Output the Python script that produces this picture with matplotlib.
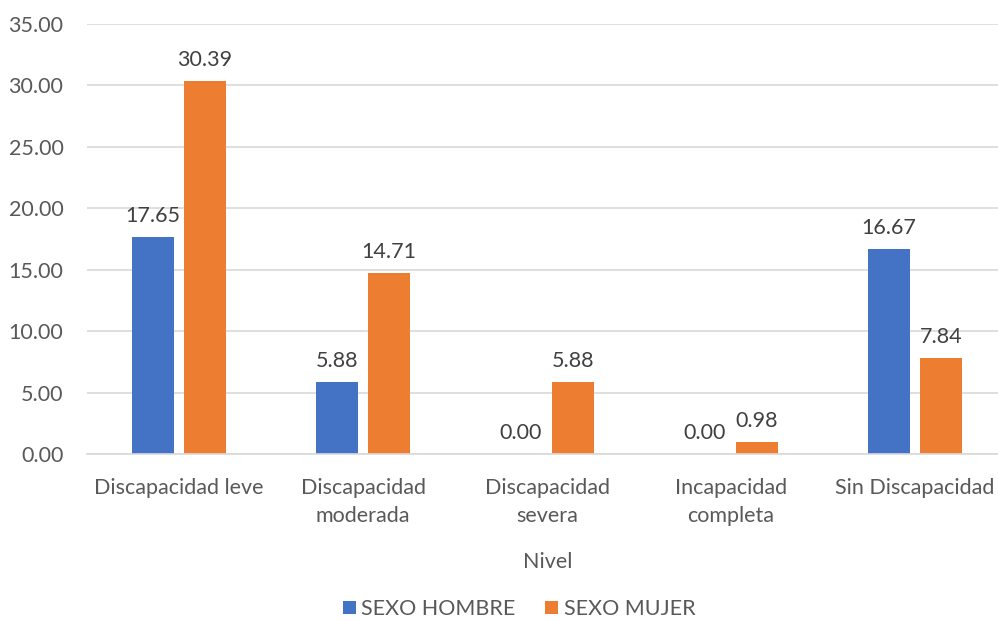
import matplotlib.pyplot as plt
import numpy as np

categorias = ["Discapacidad leve", "Discapacidad\nmoderada", "Discapacidad\nsevera",
              "Incapacidad\ncompleta", "Sin Discapacidad"]
hombre = [17.65, 5.88, 0.00, 0.00, 16.67]
mujer = [30.39, 14.71, 5.88, 0.98, 7.84]
series = ["SEXO HOMBRE", "SEXO MUJER"]
yticks = [0, 5, 10, 15, 20, 25, 30, 35]

plt.rcParams['font.family'] = ['Lato', 'DejaVu Sans']
fs = 15.5

fig = plt.figure(figsize=(9.98, 6.21), dpi=100)
# plot area runs a little past the right edge of the canvas
ax = fig.add_axes([0.0872, 0.2689, 0.9218, 0.6925])

x = np.arange(len(categorias))
w = 0.226
off = 0.141
b1 = ax.bar(x - off, hombre, w, color='#4472C4', label=series[0])
b2 = ax.bar(x + off, mujer, w, color='#ED7D31', label=series[1])

for bars in (b1, b2):
    for b in bars:
        h = b.get_height()
        ax.annotate(f"{h:.2f}", (b.get_x() + b.get_width() / 2, h),
                    xytext=(0, 8), textcoords='offset points',
                    ha='center', va='bottom', fontsize=fs, color='#404040')

ax.set_xlim(-0.5, len(categorias) - 0.5)
ax.set_ylim(0, 35)
ax.set_yticks(yticks)
ax.set_yticklabels([f"{v:.2f}" for v in yticks])
ax.set_xticks(x)
ax.set_xticklabels(categorias, linespacing=1.5)
ax.tick_params(axis='both', length=0, labelsize=fs, labelcolor='#595959')
ax.tick_params(axis='x', pad=17)
ax.tick_params(axis='y', pad=17)

ax.grid(axis='y', color='#d9d9d9', linewidth=1.2)
ax.set_axisbelow(True)
for s in ['top', 'right', 'left']:
    ax.spines[s].set_visible(False)
ax.spines['bottom'].set_color('#d9d9d9')
ax.spines['bottom'].set_linewidth(1.2)

fig.text(0.549, 1 - 562 / 621, "Nivel", ha='center', va='center',
         fontsize=fs, color='#595959')
fig.legend(handles=[b1, b2], loc='center', bbox_to_anchor=(0.52, 1 - 609 / 621),
           ncol=2, frameon=False, fontsize=fs, labelcolor='#595959',
           handlelength=0.6, handleheight=0.6, handletextpad=0.25, columnspacing=1.4)

fig.savefig("out.png", dpi=100)
